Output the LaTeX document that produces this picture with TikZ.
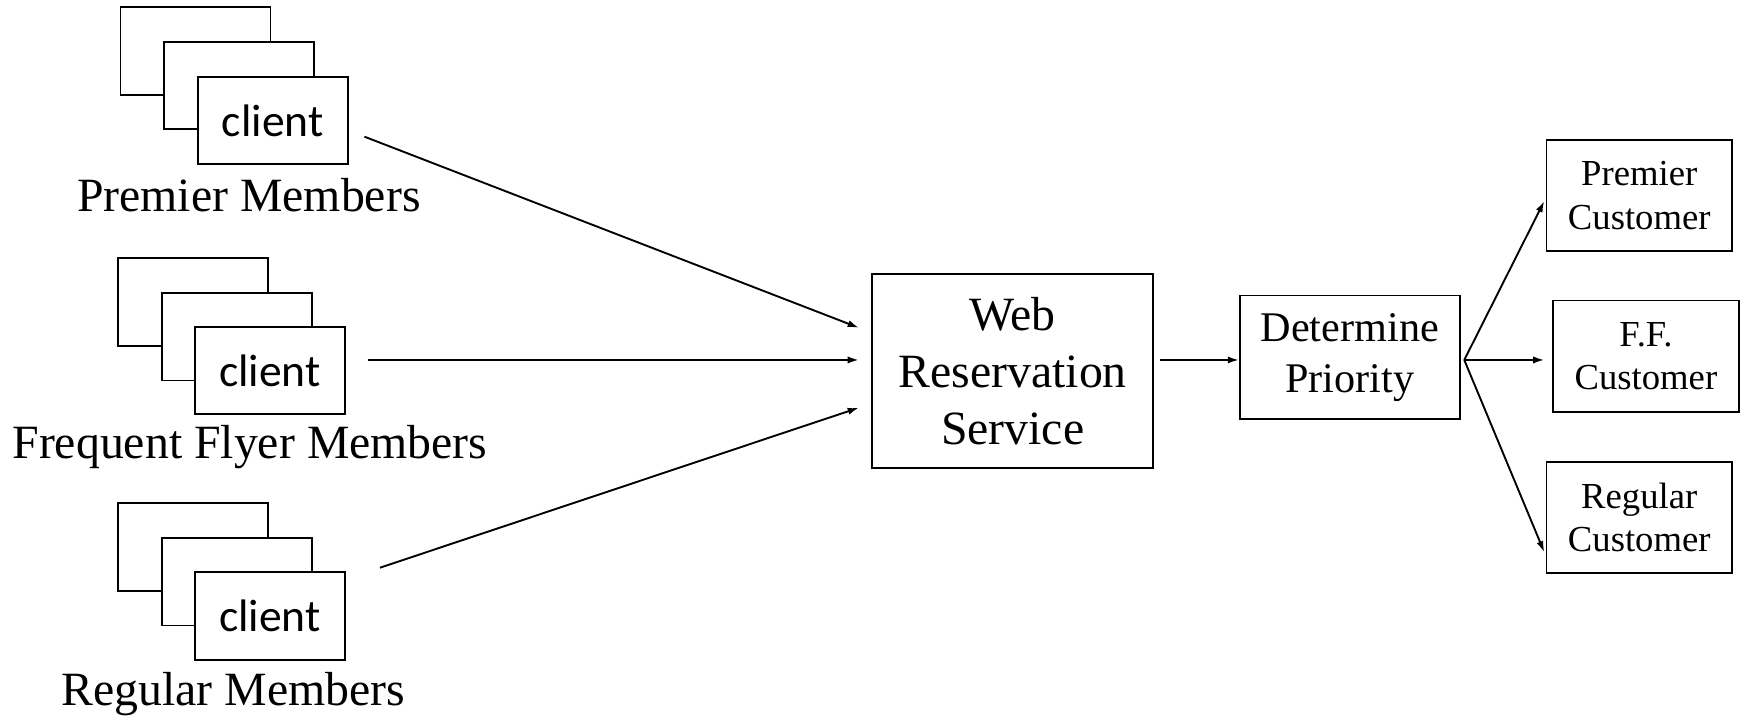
\documentclass[tikz,border=0pt]{standalone}
\usepackage{fontspec}
\setmainfont{Liberation Serif}
\newfontfamily\clientfont{Carlito}
\usetikzlibrary{arrows.meta}
\tikzset{
  box/.style={draw, line width=1.7pt, fill=white, inner sep=0pt},
  clientbox/.style={box, minimum width=135pt, minimum height=79pt},
  custbox/.style={box, minimum width=167pt, minimum height=100pt, align=center,
    font=\fontsize{33}{39}\selectfont},
  lbl/.style={font=\fontsize{43}{48}\selectfont},
  flow/.style={line width=1.7pt, -{Latex[length=10pt,width=6.5pt]}}
}
\begin{document}
\begin{tikzpicture}[x=1pt,y=-1pt]
\useasboundingbox (0,0) rectangle (1568,649);
% client stacks
\node[clientbox] (pmA) at (176,46) {};
\node[clientbox] (pmB) at (215,77) {};
\node[clientbox, font=\clientfont\fontsize{41}{46}\selectfont] (pmC) at (245.5,108.5) {client};
\node[lbl] (pmL) at (224,176) {Premier Members};

\node[clientbox] (ffA) at (174,272) {};
\node[clientbox] (ffB) at (213,303) {};
\node[clientbox, font=\clientfont\fontsize{41}{46}\selectfont] (ffC) at (243,333.5) {client};
\node[lbl] (ffL) at (225,402) {Frequent Flyer Members};

\node[clientbox] (rmA) at (174,492.5) {};
\node[clientbox] (rmB) at (213,523.5) {};
\node[clientbox, font=\clientfont\fontsize{41}{46}\selectfont] (rmC) at (243,554.5) {client};
\node[lbl] (rmL) at (210,625) {Regular Members};

% service and priority
\node[box, minimum width=253pt, minimum height=174pt, align=center,
  font=\fontsize{43}{51}\selectfont] (web) at (911.5,334) {Web\\Reservation\\Service};
\node[box, minimum width=198pt, minimum height=111pt, align=center,
  font=\fontsize{38}{46}\selectfont] (prio) at (1215,321.5) {Determine\\Priority};

% customers
\node[custbox] (pcust) at (1475.5,176) {Premier\\Customer};
\node[custbox] (fcust) at (1481.5,320.5) {F.F.\\Customer};
\node[custbox] (rcust) at (1475.5,466) {Regular\\Customer};

% connector ends
\coordinate (pmOut) at (328,123);
\coordinate (ffOut) at (331,324);
\coordinate (rmOut) at (342,511);
\coordinate (webInA) at (773,295);
\coordinate (webInB) at (773,324);
\coordinate (webInC) at (773,367);
\coordinate (webOut) at (1044,324);
\coordinate (prioOut) at (1318,324);
\coordinate (pcustIn) at (1390,181);
\coordinate (fcustIn) at (1390,324);
\coordinate (rcustIn) at (1390,497);

\draw[flow] (pmOut) -- (webInA);
\draw[flow] (ffOut) -- (webInB);
\draw[flow] (rmOut) -- (webInC);
\draw[flow] (webOut) -- (prio.west |- webOut);
\draw[flow] (prioOut) -- (pcustIn);
\draw[flow] (prioOut) -- (fcustIn);
\draw[flow] (prioOut) -- (rcustIn);
\end{tikzpicture}
\end{document}
